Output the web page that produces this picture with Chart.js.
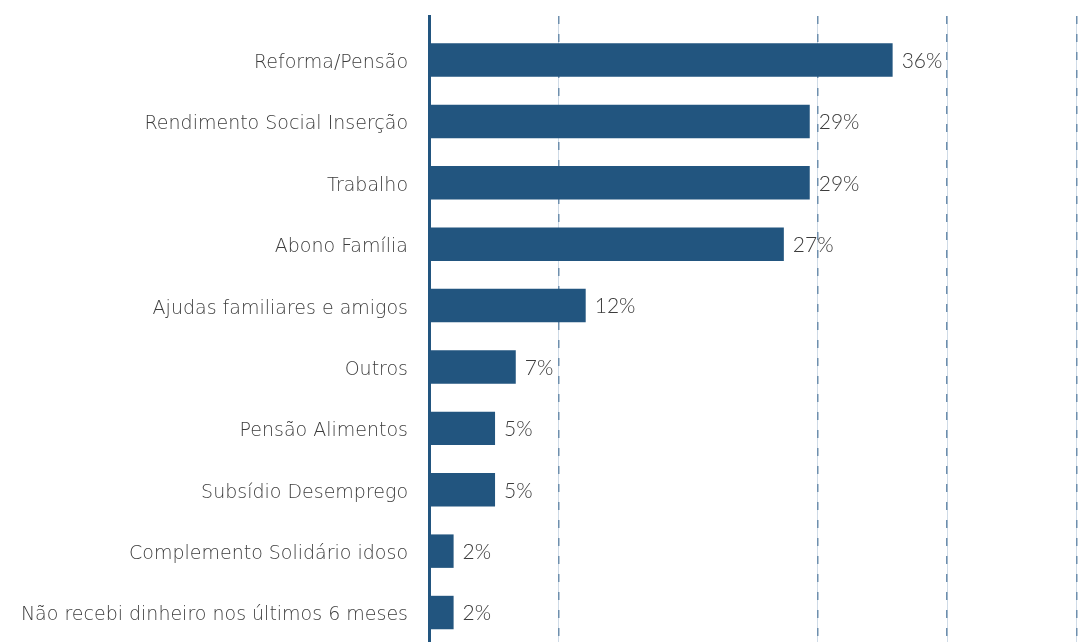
<!DOCTYPE html>
<html>
<head>
<meta charset="utf-8">
<script src="https://cdn.jsdelivr.net/npm/chart.js@4/dist/chart.umd.min.js"></script>
<style>
  html, body { margin: 0; padding: 0; background: #ffffff; overflow: hidden; }
  #wrap { width: 1083px; height: 642px; position: relative; }
</style>
</head>
<body>
<div id="wrap"><canvas id="c" width="1083" height="642"></canvas></div>
<script>
const categories = [
  "Reforma/Pensão",
  "Rendimento Social Inserção",
  "Trabalho",
  "Abono Família",
  "Ajudas familiares e amigos",
  "Outros",
  "Pensão Alimentos",
  "Subsídio Desemprego",
  "Complemento Solidário idoso",
  "Não recebi dinheiro nos últimos 6 meses"
];
const values = [35.8, 29.4, 29.4, 27.4, 12.1, 6.7, 5.1, 5.1, 1.9, 1.9];
const gridTicks = [10, 30, 40, 50];

const BAR = "#22557f";
const TXT = "#3c3c3c";
const LABEL_FONT = "'DejaVu Sans', sans-serif";
const VALUE_FONT = "Lato, sans-serif";

const valueLabels = {
  id: "valueLabels",
  afterDatasetsDraw(chart) {
    const ctx = chart.ctx;
    const meta = chart.getDatasetMeta(0);
    ctx.save();
    ctx.fillStyle = TXT;
    ctx.font = "300 21px " + VALUE_FONT;
    ctx.textAlign = "left";
    ctx.textBaseline = "middle";
    meta.data.forEach((bar, i) => {
      ctx.fillText(Math.round(values[i]) + "%", bar.x + 9, bar.y + 1);
    });
    ctx.restore();
  }
};

const flatX = s => { s.height = 0; s.paddingLeft = 0; s.paddingRight = 0; s.paddingTop = 0; s.paddingBottom = 0; };

new Chart(document.getElementById("c"), {
  type: "bar",
  data: {
    datasets: [{
      data: values.map((v, i) => ({ x: v, y: i })),
      backgroundColor: BAR,
      borderWidth: 0,
      categoryPercentage: 1,
      barPercentage: 0.545
    }]
  },
  options: {
    indexAxis: "y",
    responsive: false,
    animation: false,
    layout: { padding: { top: 16, right: 0, bottom: 0, left: 0 } },
    plugins: { legend: { display: false }, tooltip: { enabled: false } },
    scales: {
      x2: {
        type: "linear",
        min: 0,
        max: 50.5,
        position: "bottom",
        afterBuildTicks: s => { s.ticks = gridTicks.map(v => ({ value: v })); },
        afterFit: flatX,
        ticks: { display: false },
        border: { display: false },
        grid: { color: "rgba(175,195,215,0.6)", lineWidth: 1, drawTicks: false }
      },
      x: {
        type: "linear",
        min: 0,
        max: 50.5,
        position: "bottom",
        afterBuildTicks: s => { s.ticks = gridTicks.map(v => ({ value: v })); },
        afterFit: flatX,
        ticks: { display: false },
        border: { display: false, dash: [8, 10] },
        grid: { color: "#6e8fae", lineWidth: 1.5, drawTicks: false }
      },
      y: {
        type: "linear",
        reverse: true,
        offset: false,
        min: -0.717,
        max: 9.48,
        afterBuildTicks: s => { s.ticks = categories.map((_, i) => ({ value: i })); },
        afterFit: s => { s.width = 429; s.paddingTop = 0; s.paddingBottom = 0; },
        ticks: {
          callback: v => categories[v] ?? "",
          color: TXT,
          font: { family: LABEL_FONT, size: 19, weight: "200" },
          padding: 21,
          labelOffset: 3
        },
        grid: { display: false, drawTicks: false, offset: false },
        border: { display: true, color: BAR, width: 3 }
      }
    }
  },
  plugins: [valueLabels]
});
</script>
</body>
</html>
